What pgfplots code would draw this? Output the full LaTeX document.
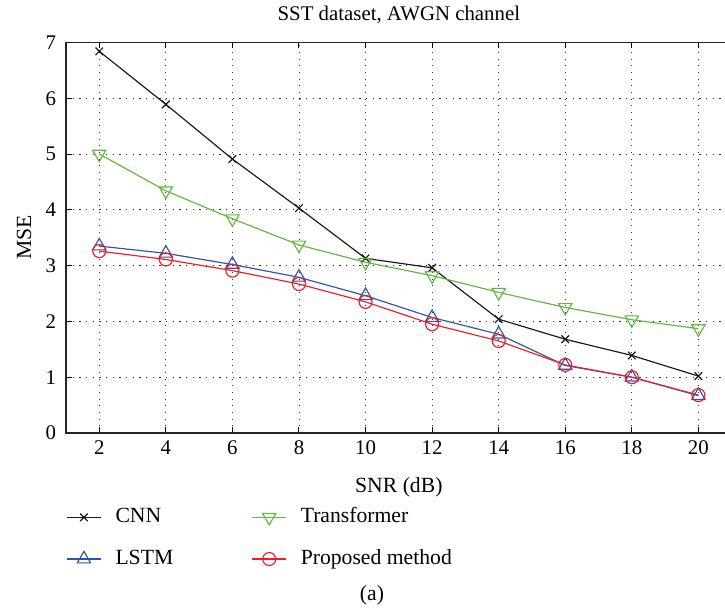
\documentclass[border=0pt]{standalone}
\usepackage{fontspec}
\setmainfont{Liberation Serif}
\usepackage{pgfplots}
\pgfplotsset{compat=1.18}
\usetikzlibrary{calc}

\definecolor{cnnc}{RGB}{25,25,25}
\definecolor{trfc}{RGB}{95,185,65}
\definecolor{lstmc}{RGB}{45,85,175}
\definecolor{ourc}{RGB}{238,30,38}

\begin{document}
\begin{tikzpicture}
\begin{axis}[
	name=ax,
	x=19.97pt,
	y=33.48pt,
	xmin=1, xmax=21,
	ymin=0, ymax=7,
	xtick={2,4,...,20},
	ytick={0,1,...,7},
	tick align=inside,
	major tick length=3.6pt,
	tick style={black, line width=0.6pt},
	axis line style={black!85, line width=0.8pt},
	grid=major,
	major grid style={black!80, line width=0.5pt, dash pattern=on 0.7pt off 3.3pt},
	/pgf/number format/assume math mode=true,
	ticklabel style={font=\fontsize{12.5}{14}\selectfont},
	yticklabel style={xshift=-2.4pt},
	xticklabel style={yshift=-1pt},
	clip=false,
	legend columns=2,
	legend cell align=left,
	legend style={
		draw=none, fill=none, inner sep=0pt,
		at={(axis description cs:0,0)}, anchor=north west, yshift=-44.4pt,
		font=\fontsize{13}{15}\selectfont,
		nodes={inner sep=0pt, text height=9pt, text depth=3pt},
		column sep=8.4pt, row sep=13pt,
		/tikz/every even column/.append style={column sep=47pt},
	},
	legend image code/.code={
		\draw[mark repeat=2,mark phase=2] plot coordinates {(0pt,0pt) (10.2pt,0pt) (20.4pt,0pt)};
	},
	every axis plot/.append style={line width=0.7pt},
]
\addplot[cnnc, mark=x, mark size=3.2pt] coordinates {
	(2,6.84) (4,5.89) (6,4.91) (8,4.03) (10,3.13) (12,2.96) (14,2.04) (16,1.68) (18,1.39) (20,1.02)
};
\addlegendentry{CNN}
\addplot[trfc, mark=triangle, mark size=4.6pt, mark options={rotate=180}] coordinates {
	(2,5.00) (4,4.34) (6,3.84) (8,3.37) (10,3.06) (12,2.82) (14,2.52) (16,2.25) (18,2.03) (20,1.87)
};
\addlegendentry{Transformer}
\addplot[lstmc, mark=triangle, mark size=4.6pt] coordinates {
	(2,3.35) (4,3.22) (6,3.02) (8,2.79) (10,2.46) (12,2.07) (14,1.77) (16,1.21) (18,1.00) (20,0.67)
};
\addlegendentry{LSTM}
\addplot[ourc, mark=o, mark size=3.9pt] coordinates {
	(2,3.26) (4,3.11) (6,2.91) (8,2.67) (10,2.35) (12,1.95) (14,1.65) (16,1.22) (18,1.00) (20,0.68)
};
\addlegendentry{Proposed method}

\node[font=\fontsize{12.5}{15}\selectfont] at (rel axis cs:0.5,1) [yshift=16.8pt] {SST dataset, AWGN channel};
\node[font=\fontsize{13}{15}\selectfont] at (rel axis cs:0.5,0) [yshift=-32.4pt] {SNR (dB)};
\end{axis}
\node[font=\fontsize{13}{15}\selectfont, rotate=90] at ($(ax.west)+(-25.2pt,0pt)$) {MSE};
\node[font=\fontsize{13}{15}\selectfont] at ($(ax.south west)+(183.6pt,-97.2pt)$) {(a)};
% the reference is cut off at the right
\pgfresetboundingbox
\path[use as bounding box] ($(ax.south west)+(-39.6pt,-107.4pt)$) rectangle ($(ax.south west)+(395.4pt,259.8pt)$);
\end{tikzpicture}
\end{document}
